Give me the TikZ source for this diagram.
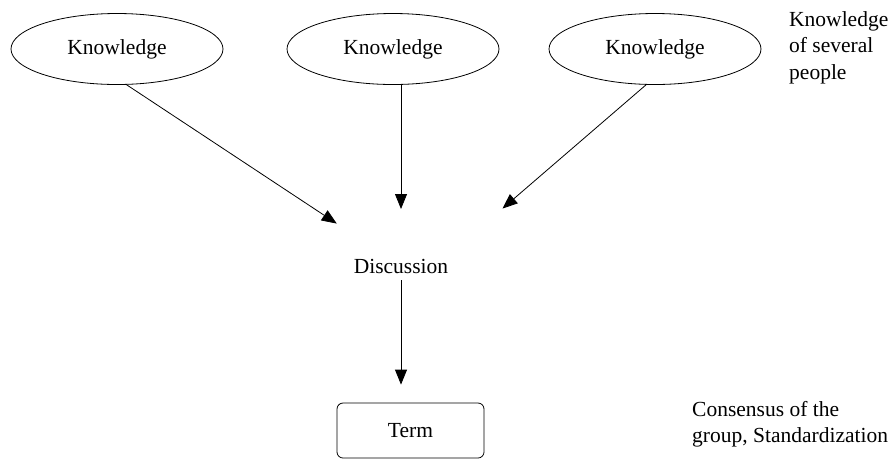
\documentclass[tikz,border=0pt]{standalone}
\usepackage{fontspec}
\setmainfont{Liberation Serif}
\usetikzlibrary{shapes.geometric,arrows.meta,calc}
\begin{document}
\begin{tikzpicture}[x=1pt,y=-1pt,
  every node/.style={font=\fontsize{21.5}{26.5}\selectfont},
  know/.style={ellipse,draw,line width=0.8pt,minimum width=212pt,minimum height=71pt,inner sep=0pt},
  flow/.style={draw,line width=0.8pt,-{Triangle[length=15pt,width=12pt]}},
  termbox/.style={draw,line width=0.8pt,rounded corners=6pt,minimum width=147pt,minimum height=55pt,inner sep=0pt},
  note/.style={align=left,inner sep=0pt,anchor=north west}]
\useasboundingbox (0,0) rectangle (890,459);

% the three sources of knowledge
\node[know] (k1) at (117,49) {Knowledge};
\node[know] (k2) at (393,49) {Knowledge};
\node[know] (k3) at (655,49) {Knowledge};

% discussion and its result
\node[inner sep=0pt,minimum height=28pt] (disc) at (401,266) {Discussion};
\node[termbox] (term) at (410.5,430.5) {Term};

% side notes
\node[note] (n1) at (789,11) {Knowledge\\of several\\people};
\node[note] (n2) at (692,401) {Consensus of the\\group, Standardization};

% connectors
\draw[flow,shorten >=77pt] (k1.-75) -- (disc.center);
\draw[flow,shorten >=57pt] (k2.south -| disc.center) -- (disc.center);
\draw[flow,shorten >=134pt] (k3.-104) -- ($(disc.center)+(0,30)$);
\draw[flow,shorten >=18pt] (disc.south) -- (disc.south |- term.north);
\end{tikzpicture}
\end{document}
